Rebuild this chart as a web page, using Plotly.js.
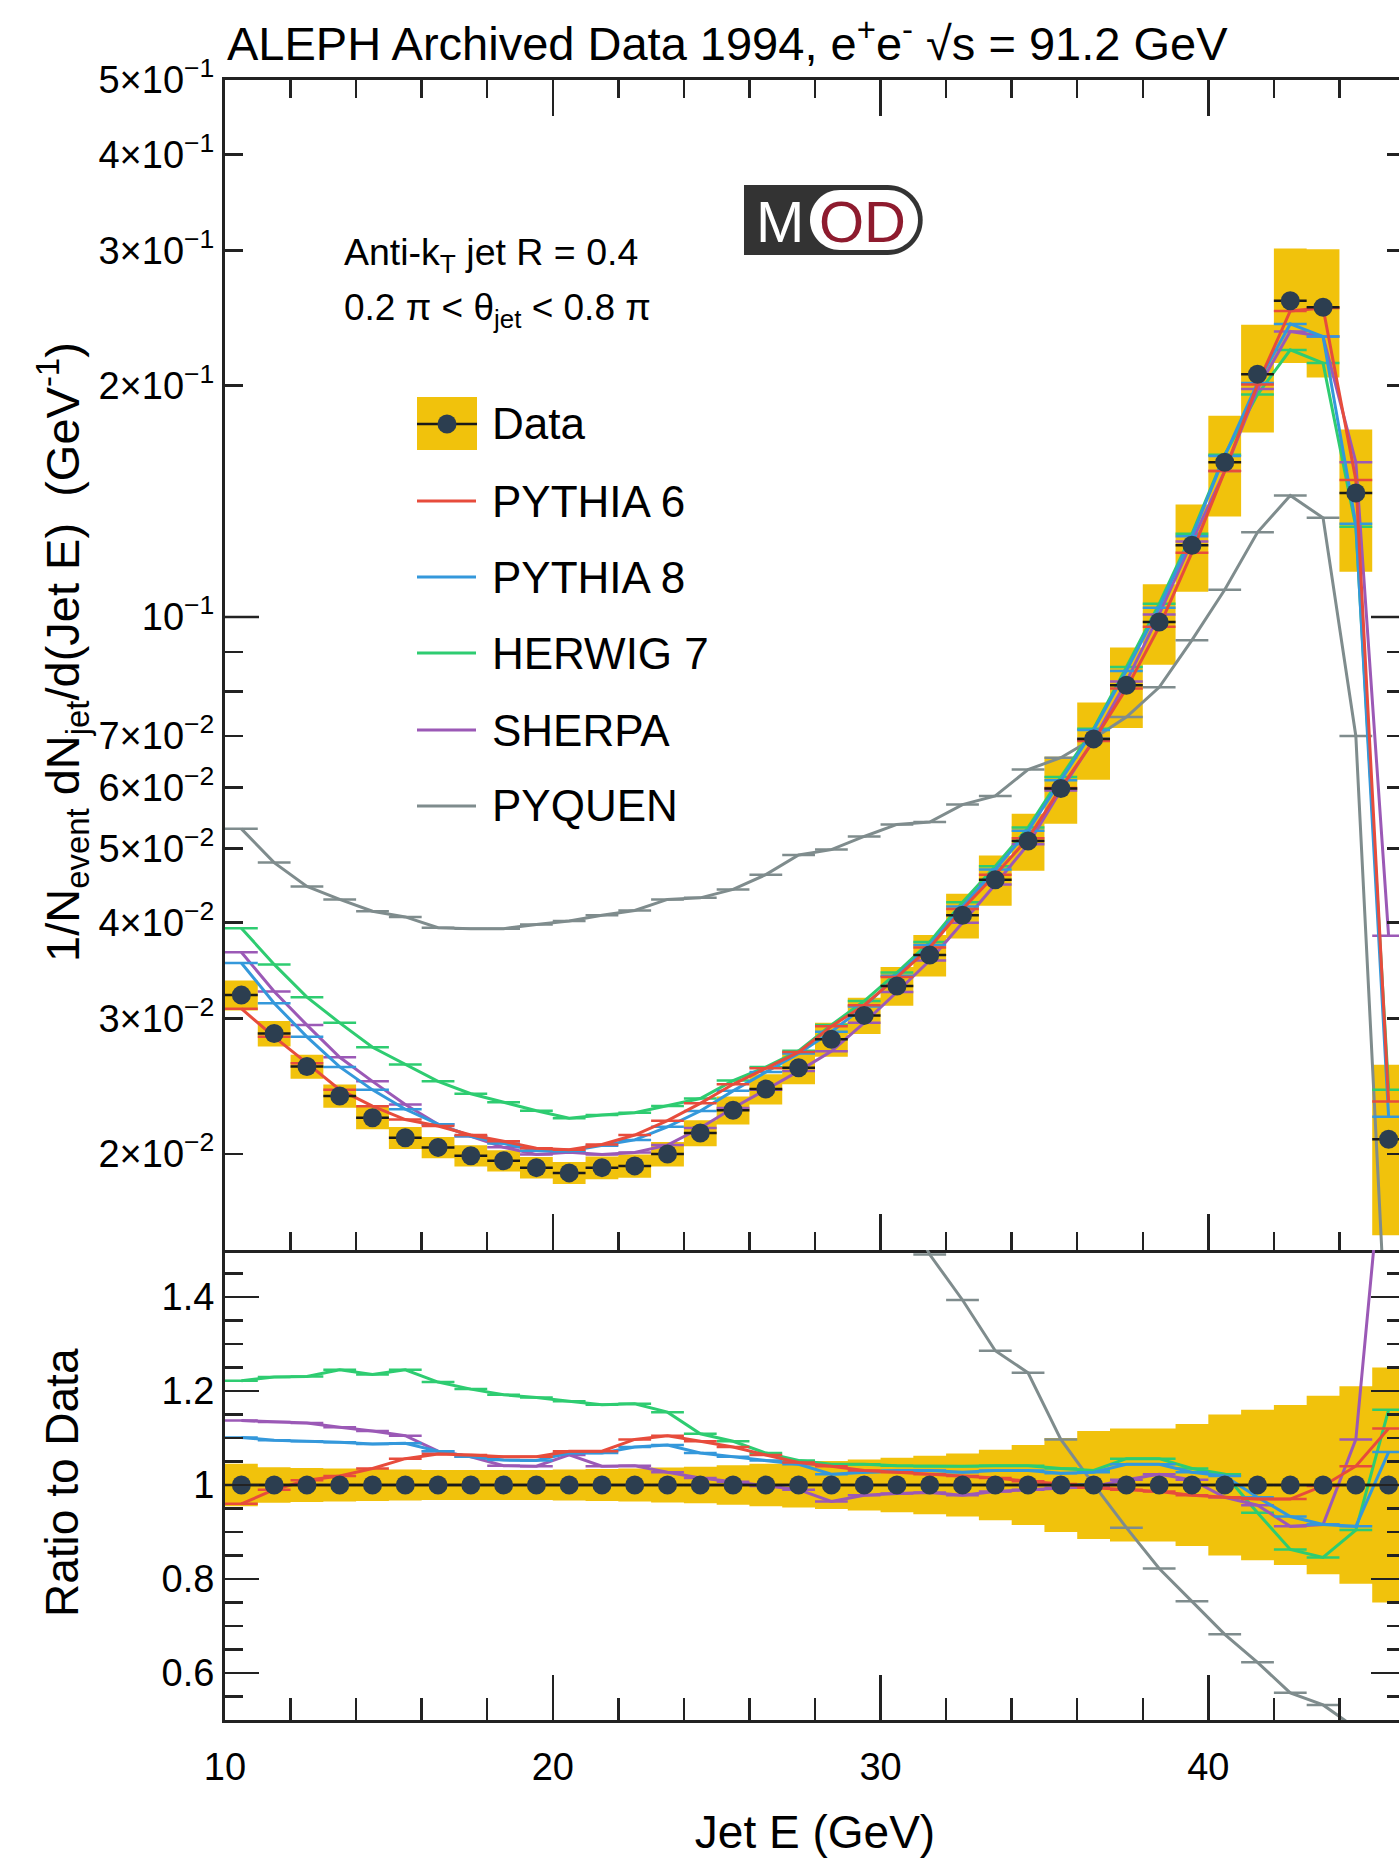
<!DOCTYPE html>
<html><head><meta charset="utf-8">
<script src="https://cdn.plot.ly/plotly-3.0.1.min.js"></script>
<style>html,body{margin:0;padding:0;overflow:hidden;background:#fff}</style>
</head><body><div id="chart" style="width:1410px;height:1858px"></div>
<script>
// ---------------- data ----------------
const binCenters = [10.5,11.5,12.5,13.5,14.5,15.5,16.5,17.5,18.5,19.5,20.5,21.5,22.5,23.5,24.5,25.5,26.5,27.5,28.5,29.5,30.5,31.5,32.5,33.5,34.5,35.5,36.5,37.5,38.5,39.5,40.5,41.5,42.5,43.5,44.5,45.5];
const binHalfWidth = 0.5;
const dataValues = [0.0322,0.0287,0.0260,0.0238,0.0223,0.0210,0.0204,0.0199,0.0196,0.0192,0.0189,0.0192,0.0193,0.0200,0.0213,0.0228,0.0243,0.0259,0.0282,0.0303,0.0331,0.0363,0.0409,0.0455,0.0511,0.0598,0.0694,0.0815,0.0985,0.124,0.159,0.207,0.258,0.253,0.145,0.0209];
const dataRelErr = [0.045,0.038,0.036,0.035,0.034,0.033,0.032,0.032,0.032,0.032,0.033,0.034,0.035,0.037,0.039,0.042,0.045,0.048,0.051,0.054,0.058,0.062,0.067,0.075,0.085,0.10,0.115,0.12,0.12,0.13,0.15,0.16,0.17,0.19,0.21,0.25];
const ratioPythia6 = [0.96,0.99,1.01,1.019,1.035,1.056,1.066,1.064,1.06,1.06,1.072,1.072,1.097,1.105,1.093,1.081,1.064,1.048,1.04,1.031,1.027,1.023,1.019,1.015,1.008,1.002,0.994,0.99,0.986,0.978,0.974,0.97,0.97,0.998,1.04,1.12];
const ratioPythia8 = [1.101,1.095,1.093,1.091,1.087,1.089,1.072,1.06,1.053,1.052,1.068,1.068,1.081,1.085,1.068,1.06,1.052,1.044,1.023,1.027,1.031,1.031,1.027,1.031,1.031,1.025,1.027,1.044,1.044,1.027,1.019,0.974,0.933,0.916,0.912,1.07];
const ratioHerwig7 = [1.222,1.23,1.231,1.245,1.235,1.245,1.219,1.204,1.192,1.186,1.178,1.171,1.173,1.155,1.109,1.093,1.068,1.052,1.044,1.044,1.041,1.04,1.04,1.041,1.041,1.035,1.031,1.056,1.056,1.035,1.023,0.941,0.863,0.846,0.904,1.16];
const ratioSherpa = [1.137,1.134,1.132,1.123,1.115,1.105,1.072,1.06,1.041,1.04,1.064,1.04,1.041,1.027,1.015,1.007,0.998,0.99,0.965,0.978,0.982,0.984,0.978,0.986,0.99,0.994,0.997,1.011,1.023,1.011,0.974,0.957,0.912,0.916,1.097,1.84];
const pyquenValues = [0.0530,0.0479,0.0446,0.0429,0.0414,0.0407,0.0394,0.0393,0.0393,0.0398,0.0402,0.0409,0.0415,0.0429,0.0431,0.0442,0.0462,0.0490,0.0498,0.0518,0.0537,0.0541,0.0570,0.0585,0.0633,0.0656,0.0695,0.0741,0.0810,0.0933,0.1085,0.1289,0.1439,0.1346,0.070,0.010];

const yTickVals = [0.02,0.03,0.04,0.05,0.06,0.07,0.1,0.2,0.3,0.4,0.5];
const yTickText = ['2×10<sup>−2</sup>','3×10<sup>−2</sup>','4×10<sup>−2</sup>','5×10<sup>−2</sup>','6×10<sup>−2</sup>','7×10<sup>−2</sup>','10<sup>−1</sup>','2×10<sup>−1</sup>','3×10<sup>−1</sup>','4×10<sup>−1</sup>','5×10<sup>−1</sup>'];
const yMinorTickVals = [0.08,0.09];
const ratioTickVals = [0.6,0.8,1,1.2,1.4];
const ratioTickText = ['0.6','0.8','1','1.2','1.4'];
const xTickVals = [10,20,30,40];
const xTickText = ['10','20','30','40'];
const legendNames = ['Data','PYTHIA 6','PYTHIA 8','HERWIG 7','SHERPA','PYQUEN'];

// ---------------- styles ----------------
const FONT = 'Liberation Sans, Arial, Helvetica, sans-serif';
const C = {data:'#2c3e50', band:'#f1c20c', p6:'#e74c3c', p8:'#3498db', h7:'#2ecc71', sh:'#9b59b6', pq:'#7f8c8d', axis:'#222'};
const W = 1410, H = 1858, ML = 225, MR = 5, MT = 80, MB = 138;
const PW = W - ML - MR, PH = H - MT - MB;
const px = x => (x - ML) / PW;
const py = y => (H - MB - y) / PH;
const splitY = py(1250);

// ---------------- derived series ----------------
const edges = binCenters.map(c => c - binHalfWidth).concat([binCenters[binCenters.length-1] + binHalfWidth]);
const stepVals = a => a.concat([a[a.length-1]]);
const bandUp = dataValues.map((v,i) => v*(1+dataRelErr[i]));
const bandLo = dataValues.map((v,i) => v*(1-dataRelErr[i]));
const rBandUp = dataRelErr.map(e => 1+e);
const rBandLo = dataRelErr.map(e => 1-e);
const mc = r => r.map((v,i) => v*dataValues[i]);
const ratioPyquen = pyquenValues.map((v,i) => v/dataValues[i]);
const ones = dataValues.map((v) => v/v);

const ex = col => ({type:'constant', value:binHalfWidth, width:0, thickness:2.5, color:col});
const traces = [];
function band(lo, up, xa, ya){
  traces.push({x:edges, y:stepVals(lo), mode:'lines', line:{shape:'hv', width:0, color:C.band}, xaxis:xa, yaxis:ya, hoverinfo:'skip', showlegend:false});
  traces.push({x:edges, y:stepVals(up), mode:'lines', fill:'tonexty', fillcolor:C.band, line:{shape:'hv', width:0, color:C.band}, xaxis:xa, yaxis:ya, hoverinfo:'skip', showlegend:false});
}
band(bandLo, bandUp, 'x', 'y');
band(rBandLo, rBandUp, 'x2', 'y2');

const series = [
  {name:'PYQUEN', top:pyquenValues, ratio:ratioPyquen, col:C.pq},
  {name:'HERWIG 7', top:mc(ratioHerwig7), ratio:ratioHerwig7, col:C.h7},
  {name:'SHERPA', top:mc(ratioSherpa), ratio:ratioSherpa, col:C.sh},
  {name:'PYTHIA 8', top:mc(ratioPythia8), ratio:ratioPythia8, col:C.p8},
  {name:'PYTHIA 6', top:mc(ratioPythia6), ratio:ratioPythia6, col:C.p6}
];
series.forEach(s => {
  traces.push({x:binCenters, y:s.top, name:s.name, mode:'lines', line:{color:s.col, width:3}, error_x:ex(s.col), xaxis:'x', yaxis:'y', showlegend:false});
  traces.push({x:binCenters, y:s.ratio, name:s.name, mode:'lines', line:{color:s.col, width:3}, error_x:ex(s.col), xaxis:'x2', yaxis:'y2', showlegend:false});
});
traces.push({x:binCenters, y:dataValues, name:'Data', mode:'markers', marker:{color:C.data, size:19}, error_x:ex('#1a1a1a'), xaxis:'x', yaxis:'y', showlegend:false});
traces.push({x:binCenters, y:ones, name:'Data', mode:'lines+markers', line:{color:'#1a1a1a', width:2.5}, marker:{color:C.data, size:19}, error_x:ex('#1a1a1a'), xaxis:'x2', yaxis:'y2', showlegend:false});

// ---------------- decorations ----------------
const shapes = [];
shapes.push({type:'line', xref:'paper', yref:'y', x0:0, x1:34/PW, y0:0.1, y1:0.1, line:{color:C.axis, width:2.5}});
shapes.push({type:'line', xref:'paper', yref:'y', x0:1-34/PW, x1:1, y0:0.1, y1:0.1, line:{color:C.axis, width:2.5}});
const legY = [424, 501, 577, 653, 730, 806];
const legCols = [null, C.p6, C.p8, C.h7, C.sh, C.pq];
const lx0 = 417, lx1 = 477;
shapes.push({type:'rect', xref:'paper', yref:'paper', x0:px(lx0), x1:px(lx1), y0:py(450), y1:py(397), fillcolor:C.band, line:{width:0}});
shapes.push({type:'line', xref:'paper', yref:'paper', x0:px(lx0), x1:px(lx1), y0:py(legY[0]), y1:py(legY[0]), line:{color:'#1a1a1a', width:2.5}});
shapes.push({type:'circle', xref:'paper', yref:'paper', x0:px(447-9.5), x1:px(447+9.5), y0:py(legY[0]+9.5), y1:py(legY[0]-9.5), fillcolor:C.data, line:{width:0}});
for (let i = 1; i < legY.length; i++) {
  shapes.push({type:'line', xref:'paper', yref:'paper', x0:px(lx0), x1:px(lx1-1), y0:py(legY[i]), y1:py(legY[i]), line:{color:legCols[i], width:3}});
}
// MOD logo
const P = (x,y) => px(x).toFixed(5)+','+py(y).toFixed(5);
const k = 0.5523;
const oR = 35, oL = 744, oT = 185, oB = 255, oRx = 922.7;
const oc = oRx - oR;
const outer = 'M'+P(oL,oT)+' L'+P(oc,oT)+' C'+P(oc+k*oR,oT)+' '+P(oRx,oT+oR-k*oR)+' '+P(oRx,oT+oR)+
  ' C'+P(oRx,oT+oR+k*oR)+' '+P(oc+k*oR,oB)+' '+P(oc,oB)+' L'+P(oL,oB)+' Z';
shapes.push({type:'path', xref:'paper', yref:'paper', path:outer, fillcolor:'#333333', line:{width:0}});
const iR = 30, iL = 810, iRt = 918, iT = 190, iB = 250, iM = 220;
const a = iL+iR, b = iRt-iR;
const inner = 'M'+P(a,iT)+' L'+P(b,iT)+' C'+P(b+k*iR,iT)+' '+P(iRt,iM-k*iR)+' '+P(iRt,iM)+
  ' C'+P(iRt,iM+k*iR)+' '+P(b+k*iR,iB)+' '+P(b,iB)+' L'+P(a,iB)+
  ' C'+P(a-k*iR,iB)+' '+P(iL,iM+k*iR)+' '+P(iL,iM)+' C'+P(iL,iM-k*iR)+' '+P(a-k*iR,iT)+' '+P(a,iT)+' Z';
shapes.push({type:'path', xref:'paper', yref:'paper', path:inner, fillcolor:'#ffffff', line:{width:0}});

const ann = [];
const legFont = {family:FONT, size:44, color:'#000'};
legendNames.forEach((n,i) => ann.push({xref:'paper', yref:'paper', x:px(490), y:py(legY[i]), xanchor:'left', yanchor:'middle', text:n, showarrow:false, font:legFont}));
const txtFont = {family:FONT, size:37.5, color:'#000'};
ann.push({xref:'paper', yref:'paper', x:px(342), y:py(255), xanchor:'left', yanchor:'middle', text:'Anti-k<sub>T</sub> jet R = 0.4', showarrow:false, font:txtFont});
ann.push({xref:'paper', yref:'paper', x:px(342), y:py(310), xanchor:'left', yanchor:'middle', text:'0.2 π &lt; θ<sub>jet</sub> &lt; 0.8 π', showarrow:false, font:{family:FONT, size:37, color:'#000'}});
ann.push({xref:'paper', yref:'paper', x:px(780), y:py(222), xanchor:'center', yanchor:'middle', text:'M', showarrow:false, font:{family:FONT, size:58, color:'#ffffff'}});
ann.push({xref:'paper', yref:'paper', x:px(862), y:py(222), xanchor:'center', yanchor:'middle', text:'OD', showarrow:false, font:{family:FONT, size:58, color:'#8e1b2e'}});
// axis titles placed as rotated annotations
const titleFont = {family:FONT, size:47, color:'#000'};
ann.push({xref:'paper', yref:'paper', x:px(62), y:py(652), xanchor:'center', yanchor:'middle', textangle:-90, text:'1/N<sub>event</sub> dN<sub>jet</sub>/d(Jet E)  (GeV<sup>-1</sup>)', showarrow:false, font:titleFont});
ann.push({xref:'paper', yref:'paper', x:px(62), y:py(1483), xanchor:'center', yanchor:'middle', textangle:-90, text:'Ratio to Data', showarrow:false, font:{family:FONT, size:46, color:'#000'}});

// ---------------- layout ----------------
const tickFont = {family:FONT, size:38, color:'#000'};
const common = {showline:true, linewidth:3, linecolor:C.axis, ticks:'inside', tickwidth:2.5, tickcolor:C.axis, showgrid:false, zeroline:false, tickfont:tickFont};
const layout = {
  width:W, height:H, paper_bgcolor:'#fff', plot_bgcolor:'rgba(0,0,0,0)',
  margin:{l:ML, r:MR, t:MT, b:MB, autoexpand:false},
  showlegend:false,
  font:{family:FONT, color:'#000'},
  title:{text:'ALEPH Archived Data 1994, e<sup>+</sup>e<sup>-</sup> √s = 91.2 GeV', font:{family:FONT, size:47, color:'#000'}, xref:'container', yref:'container', x:227/W, xanchor:'left', y:1-44/H, yanchor:'middle'},
  xaxis: Object.assign({}, common, {anchor:'y', domain:[0,1], range:[10,46], tickmode:'array', tickvals:xTickVals, ticktext:xTickText, showticklabels:false, ticklen:36, mirror:'ticks', minor:{dtick:2, tick0:10, ticks:'inside', ticklen:18, tickwidth:2.5, tickcolor:C.axis}}),
  xaxis2: Object.assign({}, common, {anchor:'y2', domain:[0,1], range:[10,46], matches:'x', tickmode:'array', tickvals:xTickVals, ticktext:xTickText, ticklen:45, mirror:false, ticklabelstandoff:11, minor:{dtick:2, tick0:10, ticks:'inside', ticklen:22, tickwidth:2.5, tickcolor:C.axis}, title:{text:'Jet E (GeV)', font:{family:FONT, size:46, color:'#000'}, standoff:34}}),
  yaxis: Object.assign({}, common, {type:'log', anchor:'x', domain:[splitY,1], range:[Math.log10(0.015), Math.log10(0.5)], tickmode:'array', tickvals:yTickVals, ticktext:yTickText, ticklen:18, mirror:'ticks', ticklabelstandoff:0, minor:{tickmode:'array', tickvals:yMinorTickVals, ticks:'inside', ticklen:18, tickwidth:2.5, tickcolor:C.axis}}),
  yaxis2: Object.assign({}, common, {anchor:'x2', domain:[0,splitY], range:[0.5,1.5], tickmode:'array', tickvals:ratioTickVals, ticktext:ratioTickText, ticklen:34, mirror:'ticks', ticklabelstandoff:0, minor:{tickmode:'linear', tick0:0.5, dtick:0.05, ticks:'inside', ticklen:18, tickwidth:2.5, tickcolor:C.axis}}),
  shapes:shapes,
  annotations:ann
};
Plotly.newPlot('chart', traces, layout, {staticPlot:true, displayModeBar:false});
</script></body></html>
